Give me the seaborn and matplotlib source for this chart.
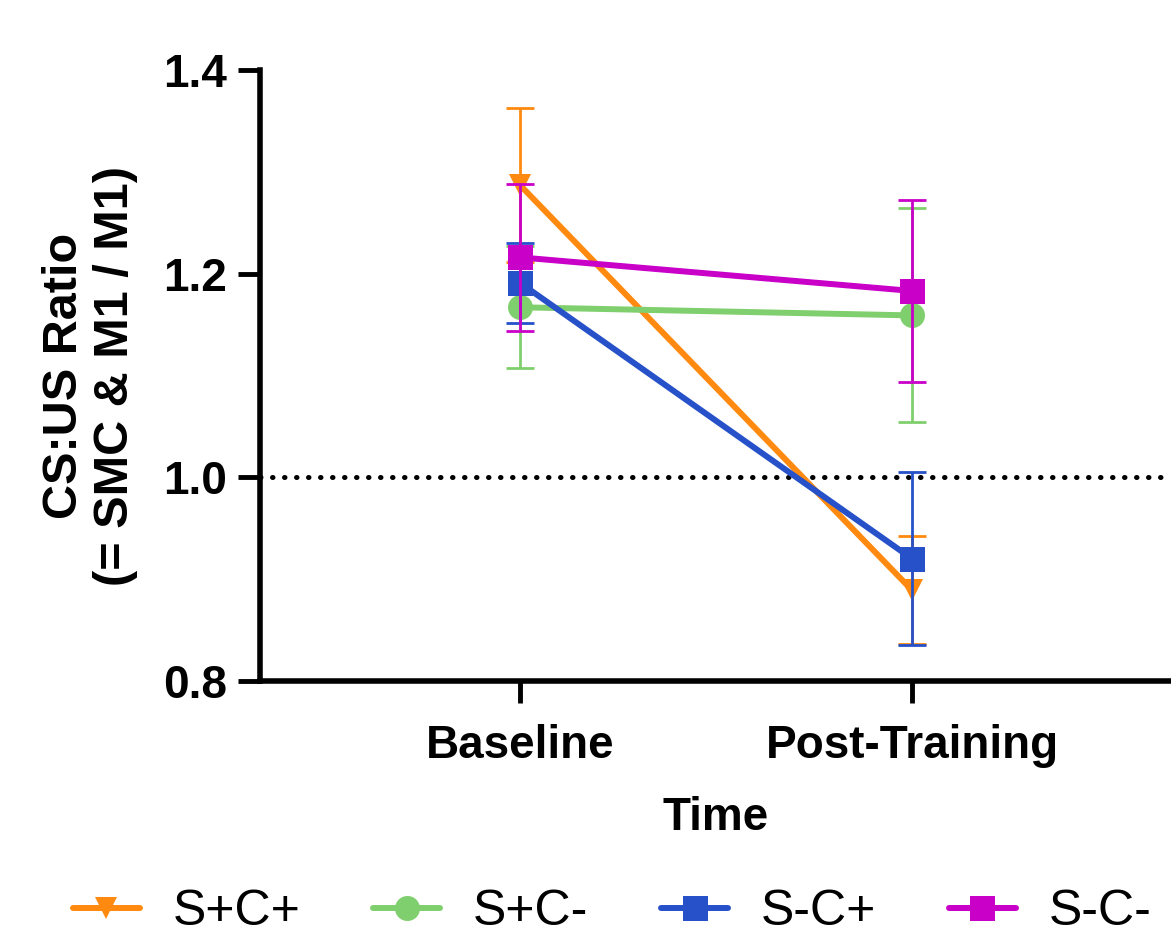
import pandas as pd
import matplotlib
matplotlib.use("Agg")
import matplotlib.pyplot as plt
import seaborn as sns
from matplotlib.lines import Line2D

# data
times = ['Baseline', 'Post-Training']
groups = ['S+C+', 'S+C-', 'S-C+', 'S-C-']
mean_spcp = [1.287, 0.889]
mean_spcm = [1.167, 1.159]
mean_smcp = [1.191, 0.920]
mean_smcm = [1.216, 1.183]
sem_spcp = [0.076, 0.053]
sem_spcm = [0.060, 0.105]
sem_smcp = [0.039, 0.085]
sem_smcm = [0.072, 0.089]

colors = ['#FF8A0F', '#80CF6E', '#2651C9', '#C800C8']
markers = ['v', 'o', 's', 's']

means = [mean_spcp, mean_spcm, mean_smcp, mean_smcm]
sems = [sem_spcp, sem_spcm, sem_smcp, sem_smcm]

rows = []
for g, m, s in zip(groups, means, sems):
    for i, t in enumerate(times):
        rows.append({'group': g, 'time': t, 'x': i, 'mean': m[i], 'sem': s[i]})
df = pd.DataFrame(rows)

black = {"text.color": "black", "axes.labelcolor": "black",
         "xtick.color": "black", "ytick.color": "black", "axes.edgecolor": "black"}
sns.set_theme(style="ticks", rc=black)
plt.rcParams['font.family'] = ['Liberation Sans', 'DejaVu Sans']

fig = plt.figure(figsize=(11.71, 9.35), dpi=100)
ax = fig.add_axes([260/1171, 1-681/935, 1-260/1171, (681-70)/935])

ax.axhline(1.0, color='black', linestyle=(0, (0.1, 2.3)), linewidth=3.6,
           dash_capstyle='round', zorder=1)

for k, g in enumerate(groups):
    d = df[df.group == g]
    ax.errorbar(d['x'], d['mean'], yerr=d['sem'], fmt='none', ecolor=colors[k],
                elinewidth=2.0, capsize=10, capthick=2.0, zorder=2 + k)
    ms = 16 if markers[k] == 'v' else 18
    sns.lineplot(data=d, x='x', y='mean', ax=ax, color=colors[k], marker=markers[k],
                 markersize=ms, markeredgewidth=0, linewidth=4.3, zorder=2 + k,
                 legend=False)

ax.set_xlim(-0.663, 1.66)
ax.set_ylim(0.8, 1.4)
ax.set_yticks([0.8, 1.0, 1.2, 1.4])
ax.set_xticks([0, 1])
ax.set_xticklabels(times)
for sp in ['top', 'right']:
    ax.spines[sp].set_visible(False)
for sp in ['left', 'bottom']:
    ax.spines[sp].set_linewidth(4)
ax.tick_params(axis='both', length=16, width=3.5, labelsize=33, pad=8)
ax.tick_params(axis='x', pad=15)
for lab in ax.get_xticklabels() + ax.get_yticklabels():
    lab.set_fontweight('bold')

ax.set_xlabel('Time', fontsize=33, fontweight='bold', labelpad=20)
ax.set_ylabel('CS:US Ratio\n(= SMC & M1 / M1)', fontsize=35, fontweight='bold',
              labelpad=18, linespacing=1.15)

handles = [Line2D([0], [0], color=c, marker=mk, markersize=18 if mk != 'v' else 16,
                  markeredgewidth=0, linewidth=4.3) for c, mk in zip(colors, markers)]
fig.legend(handles, groups, loc='center', bbox_to_anchor=(612/1171, 1-912/935), ncol=4,
           frameon=False, fontsize=36, handlelength=1.35, columnspacing=1.45,
           handletextpad=0.65, borderpad=0)

fig.savefig('out.png', dpi=100)
